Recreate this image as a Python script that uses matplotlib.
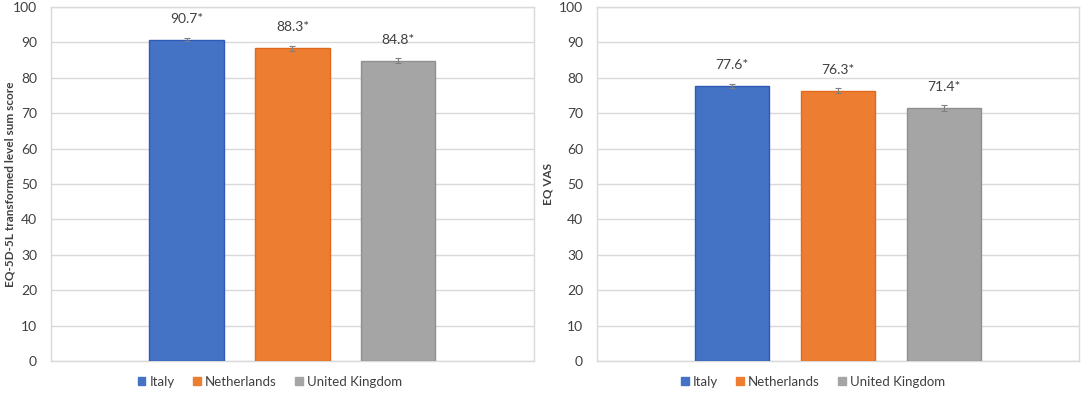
"""EQ-5D-5L and EQ VAS scores by country."""

import matplotlib.pyplot as plt
from matplotlib.patches import Patch

countries = ["Italy", "Netherlands", "United Kingdom"]
colors = ["#4472C4", "#ED7D31", "#A5A5A5"]
edge_colors = ["#2F5BB7", "#E06A1B", "#8F8F8F"]

lss_values = [90.7, 88.3, 84.8]
lss_errors = [0.4, 0.6, 0.7]
vas_values = [77.6, 76.3, 71.4]
vas_errors = [0.6, 0.7, 0.8]

panels = [
    (lss_values, lss_errors, "EQ-5D-5L transformed level sum score"),
    (vas_values, vas_errors, "EQ VAS"),
]

plt.rcParams["font.family"] = ["Lato", "DejaVu Sans"]
grid_color = "#D9D9D9"
text_color = "#404040"

fig = plt.figure(figsize=(10.84, 3.97), dpi=100)
axes_rects = [
    [0.047, 0.0907, 0.4456, 0.8917],
    [0.5507, 0.0907, 0.4447, 0.8917],
]
legend_x = [0.249, 0.75]
label_x = [-0.074, -0.09]

positions = [-1, 0, 1]
for rect, (values, errors, ylabel), lx, yx in zip(axes_rects, panels,
                                                  legend_x, label_x):
    ax = fig.add_axes(rect)
    ax.bar(positions, values, width=0.70, color=colors,
           edgecolor=edge_colors, linewidth=1.0, zorder=3)
    ax.errorbar(positions, values, yerr=errors, fmt="none",
                ecolor="#7F7F7F", elinewidth=0.8, capsize=2.5,
                capthick=0.8, zorder=4)
    for x, v in zip(positions, values):
        ax.annotate(f"{v:.1f}*", (x, v), xytext=(0, 11),
                    textcoords="offset points", ha="center", va="bottom",
                    fontsize=10, color=text_color)

    ax.set_xlim(-2.28, 2.28)
    ax.set_ylim(0, 100)
    ax.set_yticks(range(0, 101, 10))
    ax.set_xticks([])
    ax.tick_params(axis="y", length=0, labelsize=10, labelcolor=text_color,
                   pad=10)
    ax.grid(axis="y", color=grid_color, linewidth=1.0, zorder=0)
    for spine in ax.spines.values():
        spine.set_color(grid_color)
        spine.set_linewidth(1.0)
    ax.set_ylabel(ylabel, fontsize=8.5, fontweight="bold", color=text_color)
    ax.yaxis.set_label_coords(yx, 0.5)

    handles = [Patch(facecolor=c, edgecolor=c) for c in colors]
    fig.legend(handles, countries, loc="center", ncol=3,
               bbox_to_anchor=(lx, 0.038), frameon=False, fontsize=9.5,
               handlelength=0.6, handleheight=0.6, handletextpad=0.3,
               columnspacing=1.4, labelcolor=text_color)

fig.savefig("out.png", dpi=100)
